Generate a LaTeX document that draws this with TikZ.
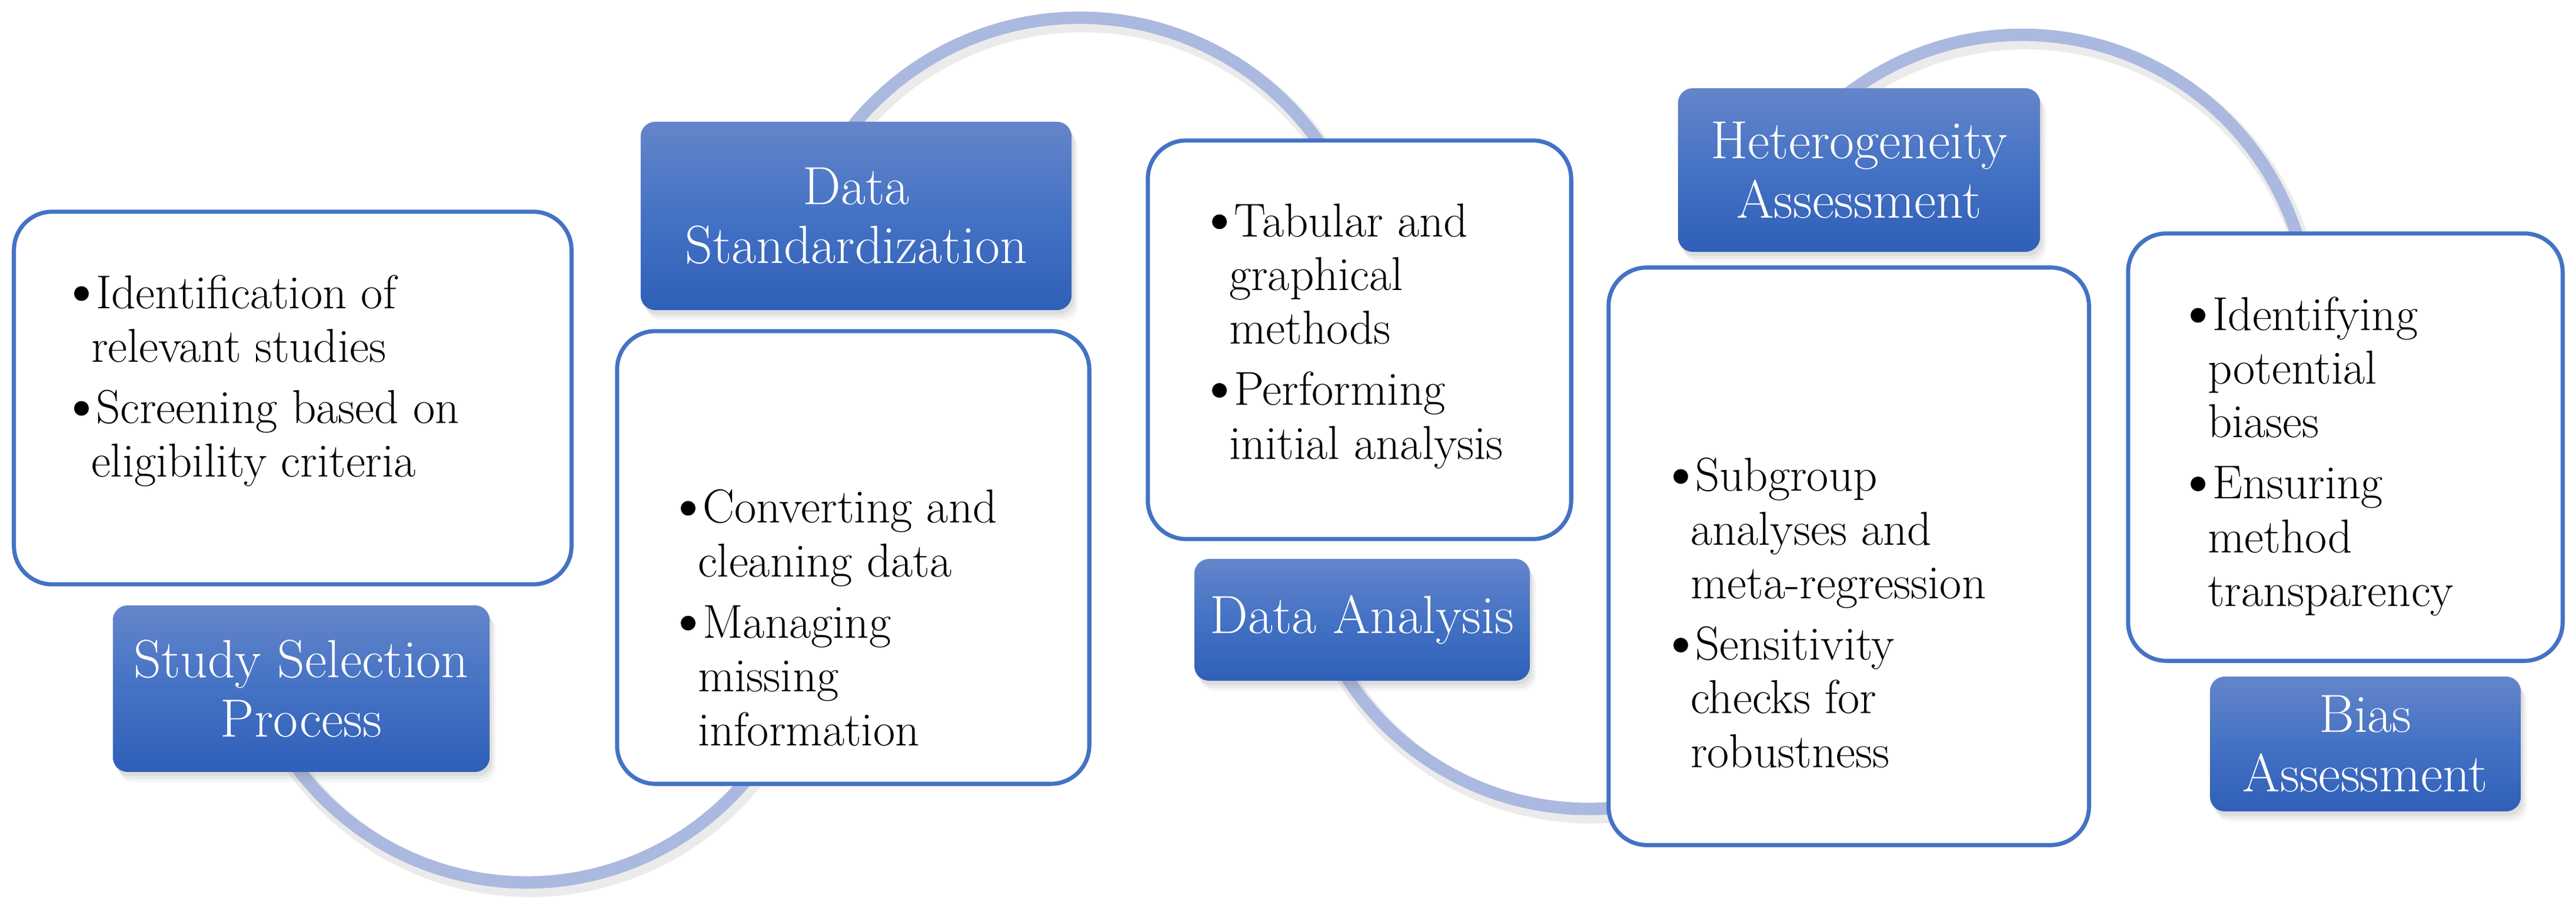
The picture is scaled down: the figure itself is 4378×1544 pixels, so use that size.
\documentclass[tikz,border=0pt]{standalone}
\usetikzlibrary{calc}
\usetikzlibrary{shadows}
\definecolor{hdtop}{HTML}{6485CA}
\definecolor{hdmid}{HTML}{4472C4}
\definecolor{hdbot}{HTML}{2F5FB8}
\definecolor{boxline}{HTML}{4472C4}
\definecolor{wavecol}{HTML}{ABB9E0}
\newcommand{\itm}{\tikz[baseline=-0.31em]\fill (0.155em,0) circle (0.155em);\hspace{0.15em}}
\newcommand{\cnt}{\hspace*{0.36em}}

\begin{document}
\begin{tikzpicture}[x=0.01cm, y=-0.01cm,
 txtbox/.style={draw=boxline, line width=2pt, fill=white, rounded corners=0.65cm, inner sep=0},
 hdbox/.style={rounded corners=0.25cm, top color=hdtop, bottom color=hdbot, middle color=hdmid, text=white, align=center, inner sep=0, font=\fontsize{26}{28.7}\selectfont,
  drop shadow={shadow xshift=1pt, shadow yshift=-2pt, opacity=.12},
  drop shadow={shadow xshift=2pt, shadow yshift=-3.5pt, opacity=.10},
  drop shadow={shadow xshift=3pt, shadow yshift=-5pt, opacity=.07}},
 txt/.style={anchor=north west, align=left, inner sep=0, font=\fontsize{23}{26}\selectfont},
 wave/.style={wavecol, line width=6pt}]
\useasboundingbox (0,0) rectangle (4378,1544);
% the wave behind the boxes
\foreach \cx/\cy/\rad/\sa/\sb in {895/1012/488/152/0, 1835/526/496/200/340, 2700/885/490/162/60, 3437/549/490/215/355} {
 \draw[black, opacity=.08, line width=9pt, shift={(5,9)}] plot[domain=\sa:\sb, samples=60] ({\cx+\rad*cos(\x)},{\cy+\rad*sin(\x)});
 \draw[wave] plot[domain=\sa:\sb, samples=60] ({\cx+\rad*cos(\x)},{\cy+\rad*sin(\x)});
}
% text boxes
\node[txtbox, minimum width=9.47cm, minimum height=6.33cm] (selbox) at (497.5,676.5) {};
\node[txtbox, minimum width=8.02cm, minimum height=7.69cm] (stdbox) at (1450,947.5) {};
\node[txtbox, minimum width=7.19cm, minimum height=6.77cm] (anabox) at (2310.5,577.5) {};
\node[txtbox, minimum width=8.16cm, minimum height=9.81cm] (hetbox) at (3142,945.5) {};
\node[txtbox, minimum width=7.38cm, minimum height=7.26cm] (biabox) at (3986,760) {};
% headers
\node[hdbox, minimum width=6.40cm, minimum height=2.83cm] (selhd) at (512,1170.5) {Study Selection\\Process};
\node[hdbox, minimum width=7.32cm, minimum height=3.20cm] (stdhd) at (1455,367) {Data\\Standardization};
\node[hdbox, minimum width=5.70cm, minimum height=2.07cm] (anahd) at (2315,1053.5) {Data Analysis};
\node[hdbox, minimum width=6.15cm, minimum height=2.78cm] (hethd) at (3159.5,289) {Heterogeneity\\Assessment};
\node[hdbox, minimum width=5.28cm, minimum height=2.29cm] (biahd) at (4020,1264.5) {Bias\\Assessment};
% bullet texts
\node[txt] (seltxt) at ($(selbox.north west)+(105,103)$) {\strut\itm Identification of\\\cnt relevant studies\\[3.5pt]\itm Screening based on\\\cnt eligibility criteria};
\node[txt] (stdtxt) at ($(stdbox.north west)+(111,265)$) {\strut\itm Converting and\\\cnt cleaning data\\[3.5pt]\itm Managing\\\cnt missing\\\cnt information};
\node[txt] (anatxt) at ($(anabox.north west)+(112,102)$) {\strut\itm Tabular and\\\cnt graphical\\\cnt methods\\[3.5pt]\itm Performing\\\cnt initial analysis};
\node[txt] (hettxt) at ($(hetbox.north west)+(113,319)$) {\strut\itm Subgroup\\\cnt analyses and\\\cnt meta-regression\\[3.5pt]\itm Sensitivity\\\cnt checks for\\\cnt robustness};
\node[txt] (biatxt) at ($(biabox.north west)+(109,103)$) {\strut\itm Identifying\\\cnt potential\\\cnt biases\\[3.5pt]\itm Ensuring\\\cnt method\\\cnt transparency};
\end{tikzpicture}
\end{document}
